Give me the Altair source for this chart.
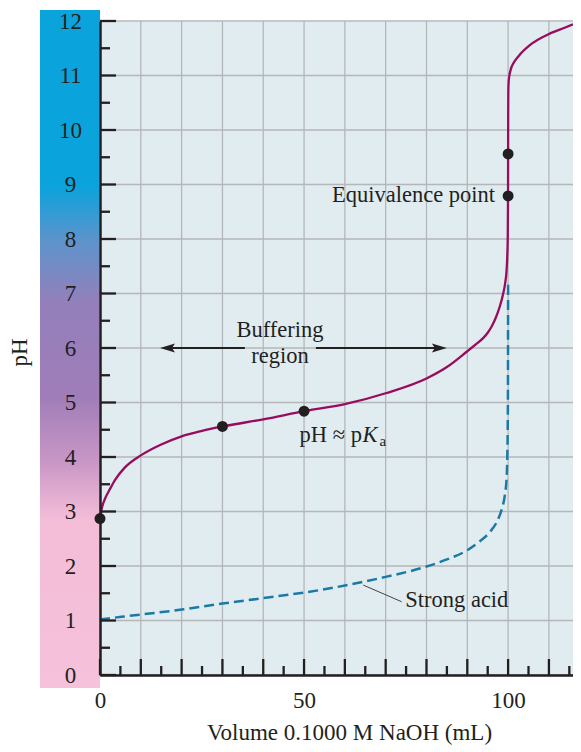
import altair as alt
import pandas as pd

# ---------------- data ----------------
weak_ml = [0, 0.5, 1.2, 2.5, 3.7, 6, 10, 15, 20, 25, 30, 40, 50, 60, 70, 80, 85, 90, 92, 94, 95, 96,
           97, 98, 98.8, 99.3, 99.6, 99.8, 99.92, 99.98, 100.0, 100.02, 100.05, 100.15, 100.5, 101.5,
           102.5, 105.4, 110, 114, 115.9]
weak_ph = [2.87, 3.08, 3.23, 3.42, 3.58, 3.80, 4.03, 4.23, 4.38, 4.48, 4.56, 4.69, 4.84, 4.97, 5.17,
           5.44, 5.65, 5.94, 6.06, 6.19, 6.28, 6.40, 6.56, 6.77, 7.00, 7.20, 7.40, 7.70, 8.10, 8.79,
           9.56, 10.3, 10.7, 10.9, 11.07, 11.25, 11.35, 11.56, 11.76, 11.88, 11.94]

strong_ml = [0, 10, 20, 30, 40, 54, 64.5, 70, 80, 85, 90, 93, 95.6, 97.5, 98.4, 99.2, 99.6, 99.8,
             99.95, 100]
strong_ph = [1.02, 1.11, 1.20, 1.31, 1.41, 1.56, 1.71, 1.80, 1.99, 2.12, 2.29, 2.45, 2.63, 2.85, 3.03,
             3.30, 3.58, 4.0, 5.0, 7.25]

dot_ml = [0, 30, 50, 100, 100]
dot_ph = [2.87, 4.56, 4.84, 9.56, 8.79]

x_grid = [0, 10, 20, 30, 40, 50, 60, 70, 80, 90, 100, 110]
x_minor = [5, 15, 25, 35, 45, 55, 65, 75, 85, 95, 105, 115]
y_major = [0, 1, 2, 3, 4, 5, 6, 7, 8, 9, 10, 11, 12]
y_minor = [0.5, 1.5, 2.5, 3.5, 4.5, 5.5, 6.5, 7.5, 8.5, 9.5, 10.5, 11.5]

x_title = "Volume 0.1000 M NaOH (mL)"
y_title = "pH"

# annotations (x in mL, y in pH, text)
ann_x = [44.1, 44.1, 48.9, 96.8, 74.8]
ann_y = [6.20, 5.72, 4.28, 8.67, 1.25]
ann_t = ["Buffering", "region", "pH \u2248 p", "Equivalence point", "Strong acid"]
ann_align = ["center", "center", "left", "right", "left"]

# buffering arrows at pH 6
arrow_y = 6.0
arrow_left = [35.5, 16.0]
arrow_right = [52.9, 83.5]
arrow_tip_left = 14.7
arrow_tip_right = 85.0

# leader line for "Strong acid"
leader_x = [64.5, 73.9]
leader_y = [1.65, 1.345]

# pH colour bar extent
bar_top, bar_bottom = 12.2, -0.24

# ---------------- styling ----------------
W, H = 473, 654
FONT = "Liberation Serif"
INK = "#231f20"
BG = "#e1ecf0"
GRID = "#b4b7ba"
AFS = 22.5
LFS = 23

xs = alt.Scale(domain=[0, 115.9], nice=False, zero=False)
ys = alt.Scale(domain=[0, 12], nice=False, zero=False)

xaxis = alt.Axis(
    values=x_grid, labelExpr="datum.value % 50 == 0 ? datum.label : ''",
    grid=False, ticks=False, tickSize=0, domain=True, domainColor=INK, domainWidth=2.5,
    labelFont=FONT, labelFontSize=LFS, labelColor=INK, labelPadding=32,
    labelBaseline="alphabetic", labelFlush=False,
    title=x_title, titleFont=FONT, titleFontSize=LFS, titleFontWeight="normal", titleColor=INK,
    titleX=249, titleY=64, titleBaseline="alphabetic", titleAlign="center", zindex=1)
yaxis = alt.Axis(
    values=y_major, grid=False, ticks=False, tickSize=0, domain=True, domainColor=INK,
    domainWidth=2.5, labelFont=FONT, labelFontSize=LFS, labelColor=INK, labelPadding=30,
    labelAlign="center", labelBaseline="middle", labelFlush=False,
    title=y_title, titleFont=FONT, titleFontSize=LFS, titleFontWeight="normal", titleColor=INK,
    titleX=-81, titleY=331, titleAngle=270, titleAlign="center", titleBaseline="middle", zindex=1)


def X(f="x"):
    return alt.X(f + ":Q", scale=xs, axis=xaxis)


def Y(f="y"):
    return alt.Y(f + ":Q", scale=ys, axis=yaxis)


gradient = alt.Gradient(
    gradient="linear", x1=0, x2=0, y1=0, y2=1,
    stops=[
        alt.GradientStop(color="#0aa3dc", offset=0),
        alt.GradientStop(color="#0aa3dc", offset=0.26),
        alt.GradientStop(color="#5d93cc", offset=0.34),
        alt.GradientStop(color="#9380bb", offset=0.43),
        alt.GradientStop(color="#a07db8", offset=0.57),
        alt.GradientStop(color="#c896c6", offset=0.665),
        alt.GradientStop(color="#f3bdd8", offset=0.75),
        alt.GradientStop(color="#f6c1da", offset=1),
    ],
)

bar = alt.Chart(pd.DataFrame({"y": [bar_top], "y2": [bar_bottom]})).mark_rect(fill=gradient).encode(
    x=alt.value(-60), x2=alt.value(0), y=Y(), y2="y2:Q")

vgrid = alt.Chart(pd.DataFrame({"x": x_grid})).mark_rule(color=GRID, strokeWidth=1.3).encode(x=X())
hgrid = alt.Chart(pd.DataFrame({"y": y_major})).mark_rule(color=GRID, strokeWidth=1.3).encode(y=Y())

strong = alt.Chart(pd.DataFrame({"x": strong_ml, "y": strong_ph})).mark_line(
    color="#1b7aa3", strokeWidth=2.5, strokeDash=[10, 5], interpolate="monotone"
).encode(x=X(), y=Y())

weak = alt.Chart(pd.DataFrame({"x": weak_ml, "y": weak_ph})).mark_line(
    color="#990b5c", strokeWidth=2.3, interpolate="monotone"
).encode(x=X(), y=Y())

ytick_major = alt.Chart(pd.DataFrame({"y": y_major})).mark_rule(color=INK, strokeWidth=2.3).encode(
    y=Y(), x=alt.value(0), x2=alt.value(16))
ytick_minor = alt.Chart(pd.DataFrame({"y": y_minor})).mark_rule(color=INK, strokeWidth=2.3).encode(
    y=Y(), x=alt.value(0), x2=alt.value(10))
xtick_major = alt.Chart(pd.DataFrame({"x": x_grid})).mark_rule(color=INK, strokeWidth=2.3).encode(
    x=X(), y=alt.value(H), y2=alt.value(H - 16))
xtick_minor = alt.Chart(pd.DataFrame({"x": x_minor})).mark_rule(color=INK, strokeWidth=2.3).encode(
    x=X(), y=alt.value(H), y2=alt.value(H - 9))

arrows_df = pd.DataFrame({
    "x": [arrow_left[0], arrow_right[0]], "x2": [arrow_left[1], arrow_right[1]],
    "y": [arrow_y, arrow_y]})
arrow_lines = alt.Chart(arrows_df).mark_rule(color=INK, strokeWidth=2).encode(
    x=X(), x2="x2:Q", y=Y())
head_l = alt.Chart(pd.DataFrame({"x": [arrow_tip_left], "y": [arrow_y]})).mark_point(
    shape="M 0 0 L 2 -0.6 L 1.6 0 L 2 0.6 Z", filled=True, size=225, color=INK, opacity=1
).encode(x=X(), y=Y())
head_r = alt.Chart(pd.DataFrame({"x": [arrow_tip_right], "y": [arrow_y]})).mark_point(
    shape="M 0 0 L -2 -0.6 L -1.6 0 L -2 0.6 Z", filled=True, size=225, color=INK, opacity=1
).encode(x=X(), y=Y())

leader = alt.Chart(pd.DataFrame({"x": [leader_x[0]], "x2": [leader_x[1]],
                                 "y": [leader_y[0]], "y2": [leader_y[1]]})).mark_rule(
    color="#444", strokeWidth=1).encode(x=X(), x2="x2:Q", y=Y(), y2="y2:Q")

ann_layers = []
for tx, ty, tt, ta in zip(ann_x, ann_y, ann_t, ann_align):
    ann_layers.append(
        alt.Chart(pd.DataFrame({"x": [tx], "y": [ty], "t": [tt]})).mark_text(
            font=FONT, fontSize=AFS, color=INK, align=ta, baseline="alphabetic"
        ).encode(x=X(), y=Y(), text="t:N"))

# italic K and subscript a of pKa, placed after "pH ≈ p"
k_text = alt.Chart(pd.DataFrame({"x": [ann_x[2]], "y": [ann_y[2]], "t": ["K"]})).mark_text(
    font=FONT, fontSize=AFS, fontStyle="italic", color=INK, align="left", baseline="alphabetic", dx=63
).encode(x=X(), y=Y(), text="t:N")
a_text = alt.Chart(pd.DataFrame({"x": [ann_x[2]], "y": [ann_y[2]], "t": ["a"]})).mark_text(
    font=FONT, fontSize=15, color=INK, align="left", baseline="alphabetic", dx=80, dy=4
).encode(x=X(), y=Y(), text="t:N")

dots = alt.Chart(pd.DataFrame({"x": dot_ml, "y": dot_ph})).mark_circle(
    color=INK, size=120, opacity=1
).encode(x=X(), y=Y())

chart = alt.layer(
    bar, vgrid, hgrid, strong, weak, ytick_major, ytick_minor, xtick_major, xtick_minor,
    arrow_lines, head_l, head_r, leader, *ann_layers, k_text, a_text, dots
).properties(
    width=W, height=H,
    padding={"left": 92, "top": 13, "right": 0, "bottom": 70},
    autosize=alt.AutoSizeParams(type="none"),
).configure_view(fill=BG, stroke="transparent")

chart.save("out.html", embed_options={"renderer": "svg", "actions": False})
